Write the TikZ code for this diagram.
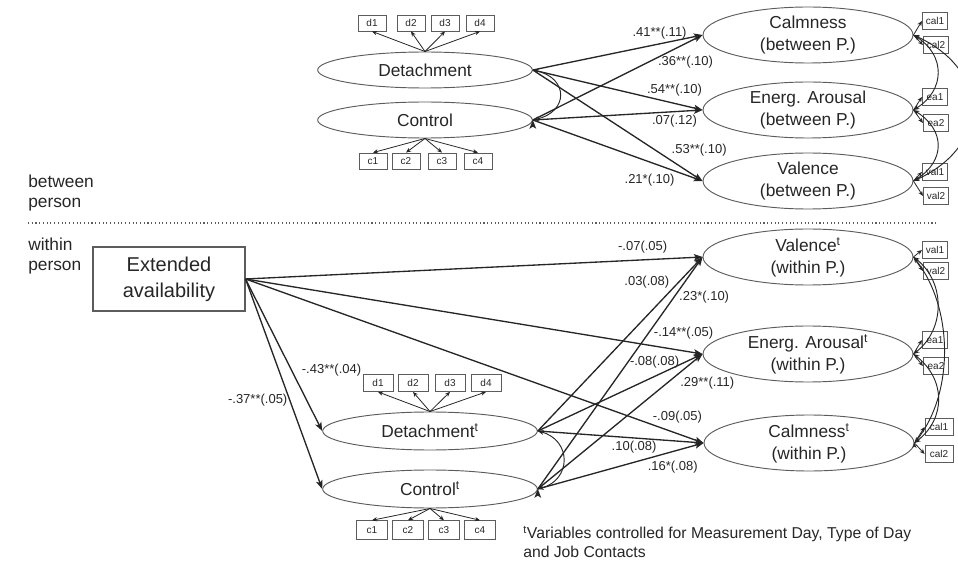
\documentclass[tikz,border=0pt]{standalone}
\usepackage{fontspec}
\setmainfont{Liberation Sans}
\usetikzlibrary{arrows.meta,shapes}

\definecolor{inkgray}{HTML}{262626}
\definecolor{rimgray}{HTML}{5C5C5C}

\begin{document}
\begin{tikzpicture}[x=0.75pt,y=-0.75pt,
                    every node/.style={text=inkgray},
                    latent/.style={ellipse,draw=rimgray,line width=0.7pt,inner sep=0pt,align=center,
                                   font=\fontsize{13}{16.5}\selectfont},
                    pred/.style={latent,minimum width=161pt,minimum height=27pt},
                    predw/.style={latent,minimum width=161pt,minimum height=28.5pt},
                    outc/.style={latent,minimum width=157.5pt,minimum height=42pt},
                    indic/.style={rectangle,draw=rimgray,line width=0.6pt,inner sep=0pt,
                                  minimum width=21pt,minimum height=12pt,font=\fontsize{7.5}{9}\selectfont},
                    sideindic/.style={indic,minimum width=19pt,minimum height=12.5pt},
                    coef/.style={font=\fontsize{9.75}{11}\selectfont,inner sep=0pt},
                    effect/.style={-{Stealth[length=6.5pt,width=5pt,inset=1.5pt]},draw=inkgray,line width=1pt},
                    load/.style={-{Stealth[length=3.8pt,width=3.2pt]},draw=inkgray,line width=0.6pt},
                    cov/.style={{Stealth[length=4.5pt,width=3.6pt]}-{Stealth[length=4.5pt,width=3.6pt]},
                                draw=inkgray,line width=0.7pt}]

  \useasboundingbox (0,0) rectangle (958,563);

  \node[pred] (detB) at (425,70)  {Detachment};
  \node[pred] (conB) at (425,120) {Control};
  \node[outc] (calB) at (808,35)  {Calmness\\(between P.)};
  \node[outc] (eaB)  at (808,110) {Energ. Arousal\\(between P.)};
  \node[outc] (valB) at (808,181) {Valence\\(between P.)};

  \node[indic] (dB1) at (372,23) {d1};
  \node[indic] (dB2) at (411,23) {d2};
  \node[indic] (dB3) at (445,23) {d3};
  \node[indic] (dB4) at (480,23) {d4};
  \node[indic] (cB1) at (373,161) {c1};
  \node[indic] (cB2) at (406,161) {c2};
  \node[indic] (cB3) at (442,161) {c3};
  \node[indic] (cB4) at (478,161) {c4};

  \node[sideindic] (calB1) at (935,21)  {cal1};
  \node[sideindic] (calB2) at (936,45)  {cal2};
  \node[sideindic] (eaB1)  at (935,97)  {ea1};
  \node[sideindic] (eaB2)  at (936,123) {ea2};
  \node[sideindic] (valB1) at (935,172) {val1};
  \node[sideindic] (valB2) at (936,196) {val2};

  \node[anchor=west,align=left,inner sep=0pt,font=\fontsize{13}{15}\selectfont] (betweenlbl) at (28,193) {between\\person};
  \draw[rimgray,dotted,line width=0.8pt] (28,223) -- (937,223);
  \node[anchor=west,align=left,inner sep=0pt,font=\fontsize{13}{15}\selectfont] (withinlbl) at (28,256) {within\\person};

  \node[rectangle,draw=rimgray,line width=0.8pt,minimum width=114pt,minimum height=48pt,align=center,
        font=\fontsize{15}{19.5}\selectfont] (ext) at (169,279) {Extended\\availability};
  \node[predw] (detW) at (430,431) {Detachment\textsuperscript{t}};
  \node[predw] (conW) at (430,489) {Control\textsuperscript{t}};
  \node[outc] (valW) at (808,257) {Valence\textsuperscript{t}\\(within P.)};
  \node[outc] (eaW)  at (808,354) {Energ. Arousal\textsuperscript{t}\\(within P.)};
  \node[outc] (calW) at (809,443) {Calmness\textsuperscript{t}\\(within P.)};

  \node[indic,minimum width=22.5pt,minimum height=12.75pt] (dW1) at (378,383) {d1};
  \node[indic,minimum width=22.5pt,minimum height=12.75pt] (dW2) at (413,383) {d2};
  \node[indic,minimum width=22.5pt,minimum height=12.75pt] (dW3) at (450,383) {d3};
  \node[indic,minimum width=22.5pt,minimum height=12.75pt] (dW4) at (486,383) {d4};
  \node[indic,minimum width=23pt,minimum height=14pt] (cW1) at (372,530) {c1};
  \node[indic,minimum width=23pt,minimum height=14pt] (cW2) at (408,530) {c2};
  \node[indic,minimum width=23pt,minimum height=14pt] (cW3) at (444,530) {c3};
  \node[indic,minimum width=23pt,minimum height=14pt] (cW4) at (480,530) {c4};

  \node[sideindic] (valW1) at (935,250) {val1};
  \node[sideindic] (valW2) at (936,271) {val2};
  \node[sideindic] (eaW1)  at (935,340) {ea1};
  \node[sideindic] (eaW2)  at (936,366) {ea2};
  \node[sideindic,minimum width=21pt] (calW1) at (939,427) {cal1};
  \node[sideindic,minimum width=21pt] (calW2) at (939,454) {cal2};

  \node[anchor=west,align=left,inner sep=0pt,font=\fontsize{11.8}{14.3}\selectfont] (note) at (523,542)
       {\textsuperscript{t}Variables controlled for Measurement Day, Type of Day\\and Job Contacts};

  \path[load]
    (detB.north) edge (dB1.south) edge (dB2.south) edge (dB3.south) edge (dB4.south)
    (conB.south) edge (cB1.north) edge (cB2.north) edge (cB3.north) edge (cB4.north)
    (detW.north) edge (dW1.south) edge (dW2.south) edge (dW3.south) edge (dW4.south)
    (conW.south) edge (cW1.north) edge (cW2.north) edge (cW3.north) edge (cW4.north)
    (calB.east) edge (calB1.west) edge (calB2.west)
    (eaB.east)  edge (eaB1.west)  edge (eaB2.west)
    (valB.east) edge (valB1.west) edge (valB2.west)
    (valW.east) edge (valW1.west) edge (valW2.west)
    (eaW.east)  edge (eaW1.west)  edge (eaW2.west)
    (calW.east) edge (calW1.west) edge (calW2.west);

  \path[effect]
    (detB.east) edge node[coef,pos=.747,yshift=8.25pt] {.41**(.11)} (calB.west)
    (detB.east) edge node[coef,pos=.835,yshift=10pt] {.54**(.10)} (eaB.west)
    (detB.east) edge node[coef,pos=.98,yshift=21.75pt] {.53**(.10)} (valB.west)
    (conB.east) edge node[coef,pos=.9,yshift=-13.9pt] {.36**(.10)} (calB.west)
    (conB.east) edge node[coef,pos=.835,yshift=-7pt] {.07(.12)} (eaB.west)
    (conB.east) edge node[coef,pos=.688,yshift=-13.5pt] {.21*(.10)} (valB.west);

  \path[effect]
    (ext.east) edge node[coef,pos=.869,yshift=9.75pt] {-.07(.05)} (valW.west)
    (ext.east) edge node[coef,pos=.9585,yshift=13.5pt] {-.14**(.05)} (eaW.west)
    (ext.east) edge node[coef,pos=.943,yshift=12.75pt] {-.09(.05)} (calW.west)
    (ext.east) edge node[coef,pos=.6,xshift=30pt] {-.43**(.04)} (detW.west)
    (ext.east) edge node[coef,pos=.576,xshift=-24pt] {-.37**(.05)} (conW.west)
    (detW.east) edge node[coef,pos=.856,xshift=-24pt] {.03(.08)} (valW.west)
    (detW.east) edge node[coef,pos=.709,yshift=10.5pt] {-.08(.08)} (eaW.west)
    (detW.east) edge node[coef,pos=.581,yshift=-6.75pt] {.10(.08)} (calW.west)
    (conW.east) edge node[coef,pos=.8276,xshift=22.5pt] {.23*(.10)} (valW.west)
    (conW.east) edge node[coef,pos=.95,xshift=9.75pt,yshift=-16.5pt] {.29**(.11)} (eaW.west)
    (conW.east) edge node[coef,pos=.814,yshift=-11.6pt] {.16*(.08)} (calW.west);

  \draw[cov] (detB.east) .. controls +(36,8) and +(36,-8) .. (conB.east);
  \draw[cov] (detW.east) .. controls +(34,9) and +(34,-9) .. (conW.east);
  \draw[cov] (calB.east) .. controls +(32,20) and +(32,-20) .. (eaB.east);
  \draw[cov] (eaB.east) .. controls +(32,20) and +(32,-20) .. (valB.east);
  \draw[cov] (calB.east) .. controls +(77,35) and +(77,-35) .. (valB.east);
  \draw[cov] (valW.east) .. controls +(32,25) and +(32,-25) .. (eaW.east);
  \draw[cov] (eaW.east) .. controls +(32,25) and +(32,-25) .. (calW.east);
  \draw[cov] (valW.east) .. controls +(40,50) and +(40,-50) .. (calW.east);
\end{tikzpicture}
\end{document}
